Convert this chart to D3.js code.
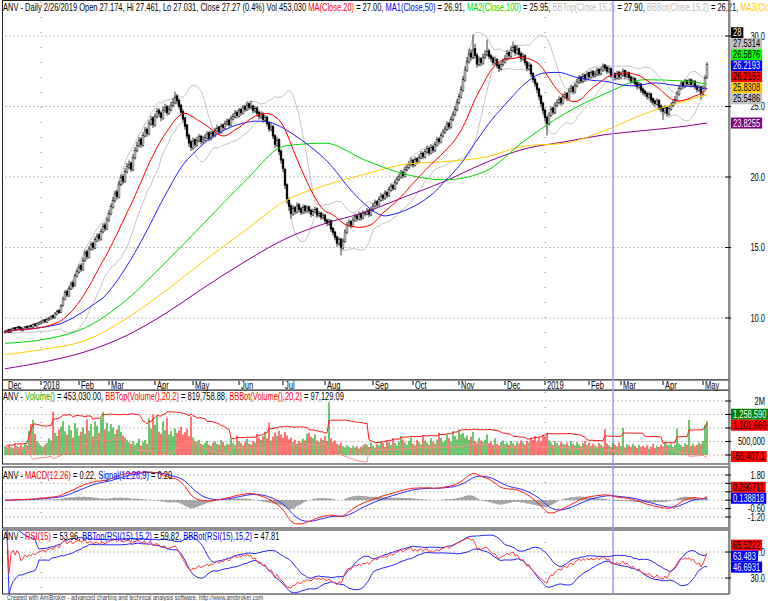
<!DOCTYPE html>
<html><head><meta charset="utf-8">
<script src="https://cdn.jsdelivr.net/npm/d3@7"></script>
<style>
body{margin:0;background:#fff;}
svg{display:block;font-family:"Liberation Sans",Arial,sans-serif;}
text{white-space:pre;}
</style>
</head><body>
<svg id="c" width="768" height="601"></svg>
<script>
// ---------------- DATA ----------------
const open=[8.95,9.00,9.18,8.98,9.12,9.32,9.15,9.38,9.32,9.10,
9.18,9.42,9.25,9.48,9.33,9.58,9.42,9.55,9.60,9.68,
9.88,9.70,9.86,9.92,10.18,10.00,10.25,10.55,10.40,10.90,
11.30,11.90,11.55,12.05,12.50,12.30,12.95,13.25,13.75,13.40,
14.05,14.70,14.30,14.85,15.30,14.95,15.45,15.90,15.55,16.10,
16.60,16.30,16.90,17.35,17.85,18.30,18.95,18.55,19.45,20.05,
19.65,20.35,20.70,21.00,20.50,21.35,21.85,22.20,22.70,22.25,
22.90,23.40,23.05,23.75,24.20,23.65,24.25,24.75,24.55,24.15,
24.70,25.00,24.50,24.75,25.05,25.25,25.75,25.45,25.10,24.65,
24.20,23.70,22.95,22.50,22.05,22.65,22.25,22.55,22.90,22.45,
22.60,22.75,23.15,22.70,23.20,22.90,23.25,23.55,23.15,23.70,
23.45,23.75,24.05,23.65,24.10,24.25,24.60,24.30,24.80,24.50,
25.00,24.75,25.20,24.90,25.05,24.65,24.90,24.60,24.25,24.50,
24.00,24.25,23.85,23.35,23.60,22.95,22.25,22.65,21.85,21.25,
20.55,19.45,18.35,17.95,17.35,17.85,17.50,18.05,17.75,17.45,
17.95,17.55,17.90,17.65,17.30,17.50,17.75,17.25,17.45,17.10,
17.30,16.95,16.65,16.90,16.35,16.10,15.75,15.25,15.60,14.95,
15.40,16.05,16.55,16.85,16.50,16.90,17.25,17.00,17.40,17.05,
17.50,17.35,17.65,17.30,17.65,17.90,18.25,18.00,18.35,18.70,
18.45,18.90,18.65,19.05,19.40,19.15,19.55,19.80,19.95,20.35,
20.05,20.50,20.65,20.85,21.20,20.80,21.30,21.05,21.35,21.70,
21.40,21.75,22.05,21.65,22.15,21.85,22.25,22.70,22.45,22.90,
23.15,23.35,23.80,23.50,24.05,24.40,24.75,25.25,25.65,26.15,
26.85,27.55,28.15,28.80,28.45,29.10,28.65,27.95,28.40,28.05,
28.45,28.65,28.95,28.60,28.45,28.05,28.35,27.95,27.65,27.95,
28.15,28.35,28.85,28.55,28.95,29.25,28.75,29.10,28.75,28.35,
28.60,28.15,27.65,27.95,27.35,26.95,26.65,26.25,25.75,25.25,
24.75,24.25,23.75,24.35,24.90,24.55,25.05,25.25,25.60,25.20,
25.65,25.95,25.55,26.05,26.40,26.00,26.45,26.70,27.10,26.75,
27.25,26.90,27.40,27.05,27.50,27.15,27.25,27.65,27.30,27.55,
27.95,27.80,27.45,27.70,27.174,27.35,27.00,27.45,27.05,27.20,
27.55,27.10,27.40,27.10,26.75,27.00,26.70,26.35,26.60,26.25,
26.10,25.95,25.65,25.90,25.55,25.40,25.15,25.45,25.05,24.90,
24.60,24.95,24.45,24.80,25.05,25.25,25.45,25.85,26.25,26.70,
26.40,26.85,26.55,26.90,26.50,26.80,26.45,26.15,26.40,25.85,
26.35,27.05];
const high=[9.15,9.20,9.24,9.26,9.34,9.36,9.40,9.44,9.36,9.30,
9.44,9.46,9.50,9.54,9.62,9.63,9.70,9.76,9.84,9.92,
9.93,10.02,10.08,10.20,10.24,10.42,10.60,10.62,10.98,11.52,
11.98,12.02,12.28,12.58,12.65,13.15,13.50,13.80,13.88,14.30,
14.80,14.85,15.10,15.40,15.42,15.75,16.00,16.02,16.35,16.72,
16.78,17.15,17.62,18.10,18.58,19.02,19.10,19.72,20.18,20.22,
20.62,21.00,21.18,21.12,21.62,22.12,22.50,22.85,22.82,23.18,
23.55,23.52,24.02,24.35,24.32,24.52,24.90,24.88,24.65,25.00,
25.20,25.10,25.05,25.35,25.60,26.05,25.88,25.60,25.20,24.80,
24.25,23.75,23.10,22.65,22.80,22.75,22.85,23.05,23.00,22.92,
23.05,23.25,23.22,23.30,23.28,23.50,23.70,23.62,23.80,23.78,
24.00,24.15,24.12,24.35,24.52,24.75,24.68,24.90,24.88,25.10,
25.12,25.35,25.28,25.40,25.12,25.05,25.00,24.70,24.65,24.60,
24.40,24.35,23.95,23.80,23.70,23.05,22.85,22.75,21.95,21.35,
20.65,19.55,18.55,18.10,18.00,17.95,18.20,18.15,17.90,18.05,
18.02,18.00,17.95,17.75,17.75,17.90,17.85,17.60,17.55,17.45,
17.40,17.05,17.05,16.98,16.45,16.20,15.85,15.75,15.68,15.65,
16.30,16.80,17.00,16.95,17.15,17.40,17.35,17.55,17.50,17.65,
17.60,17.80,17.75,17.90,18.15,18.40,18.35,18.60,18.85,18.80,
19.05,19.00,19.30,19.55,19.50,19.80,20.05,20.22,20.50,20.45,
20.75,20.92,21.12,21.38,21.30,21.45,21.40,21.60,21.85,21.80,
22.00,22.22,22.15,22.30,22.25,22.50,22.85,22.80,23.15,23.40,
23.62,23.95,23.90,24.30,24.65,25.02,25.52,25.92,26.45,27.15,
27.85,28.50,29.10,29.05,30.10,29.45,28.80,28.55,28.50,28.75,
29.00,29.75,29.10,28.75,28.55,28.55,28.45,28.10,28.20,28.40,
28.65,29.00,28.92,29.30,29.60,29.40,29.35,29.20,28.90,28.80,
28.70,28.25,28.15,28.05,27.45,27.05,26.75,26.35,25.85,25.35,
24.85,24.35,24.60,25.00,25.00,25.30,25.50,25.72,25.68,25.90,
26.05,26.02,26.30,26.52,26.48,26.70,26.95,27.22,27.18,27.35,
27.32,27.50,27.48,27.60,27.58,27.52,27.75,27.72,27.80,28.05,
28.02,27.88,27.85,27.78,27.461,27.42,27.55,27.52,27.45,27.70,
27.62,27.50,27.48,27.20,27.15,27.08,26.80,26.75,26.68,26.35,
26.20,26.05,26.05,25.98,25.65,25.50,25.60,25.52,25.15,25.00,
25.10,25.02,25.05,25.30,25.50,25.72,26.10,26.52,26.82,26.78,
26.95,26.92,27.00,26.98,26.90,26.88,26.55,26.55,26.48,26.50,
27.20,28.15];
const low=[8.88,8.96,8.93,8.94,9.08,9.12,9.12,9.20,9.06,9.05,
9.14,9.22,9.20,9.30,9.30,9.38,9.38,9.50,9.55,9.62,
9.65,9.66,9.80,9.88,9.93,9.95,10.20,10.28,10.35,10.82,
11.25,11.48,11.50,11.98,12.08,12.22,12.88,13.15,13.28,13.35,
13.98,14.15,14.22,14.78,14.80,14.88,15.38,15.45,15.48,16.00,
16.15,16.22,16.82,17.28,17.75,18.20,18.40,18.48,19.35,19.48,
19.58,20.25,20.55,20.35,20.42,21.25,21.75,22.10,22.05,22.15,
22.80,22.85,22.95,23.65,23.48,23.55,24.15,24.25,23.95,24.05,
24.55,24.35,24.40,24.65,24.95,25.15,25.15,24.80,24.40,23.90,
23.35,22.70,22.15,21.85,21.95,22.10,22.15,22.45,22.30,22.35,
22.50,22.65,22.55,22.60,22.75,22.82,23.15,23.00,23.05,23.30,
23.38,23.65,23.50,23.58,24.00,24.15,24.15,24.22,24.35,24.42,
24.60,24.68,24.75,24.80,24.50,24.55,24.30,24.10,24.15,23.85,
23.90,23.60,23.20,23.25,22.70,22.05,22.15,21.55,20.95,20.35,
19.15,18.10,17.60,17.05,17.25,17.35,17.42,17.50,17.30,17.38,
17.40,17.45,17.40,17.15,17.22,17.42,17.10,17.15,16.95,17.00,
16.70,16.50,16.55,16.10,15.85,15.50,15.05,15.15,14.45,14.85,
15.35,15.95,16.45,16.35,16.42,16.80,16.85,16.92,16.90,16.98,
17.20,17.28,17.15,17.22,17.55,17.82,17.85,17.92,18.25,18.30,
18.38,18.50,18.58,18.95,19.00,19.08,19.45,19.70,19.88,19.90,
19.98,20.40,20.55,20.75,20.65,20.72,20.90,20.98,21.25,21.25,
21.32,21.65,21.50,21.58,21.70,21.78,22.15,22.30,22.38,22.80,
23.05,23.25,23.35,23.42,23.95,24.30,24.65,25.15,25.55,26.05,
26.75,27.45,28.05,28.25,28.35,28.40,27.75,27.85,27.85,27.95,
28.35,28.55,28.35,28.15,27.90,27.95,27.70,27.45,27.55,27.85,
28.05,28.25,28.35,28.45,28.85,28.60,28.65,28.50,28.15,28.25,
27.90,27.50,27.55,27.10,26.70,26.40,25.95,25.45,24.95,24.45,
23.95,22.95,23.65,24.25,24.40,24.45,24.95,25.15,25.05,25.12,
25.55,25.40,25.45,25.95,25.85,25.92,26.35,26.60,26.60,26.65,
26.75,26.82,26.90,26.98,27.00,27.05,27.15,27.15,27.20,27.45,
27.50,27.30,27.35,27.02,27.031,26.85,26.92,26.90,26.95,27.10,
26.95,27.00,26.85,26.60,26.65,26.40,26.20,26.25,25.95,25.80,
25.70,25.50,25.55,25.25,25.10,25.00,25.05,24.75,24.60,24.05,
24.50,24.30,24.35,24.70,24.95,25.15,25.35,25.75,26.15,26.25,
26.30,26.40,26.45,26.35,26.40,26.20,26.00,26.05,25.50,25.75,
26.25,26.95];
const close=[9.05,9.12,9.00,9.18,9.25,9.20,9.32,9.28,9.15,9.22,
9.35,9.30,9.41,9.38,9.52,9.47,9.60,9.66,9.72,9.80,
9.74,9.92,9.95,10.08,10.02,10.30,10.45,10.38,10.85,11.35,
11.80,11.62,12.10,12.40,12.25,13.00,13.30,13.60,13.45,14.10,
14.60,14.35,14.90,15.20,15.00,15.55,15.80,15.62,16.15,16.50,
16.35,16.95,17.40,17.90,18.35,18.80,18.60,19.50,19.95,19.70,
20.40,20.75,20.90,20.55,21.40,21.90,22.25,22.60,22.30,22.95,
23.30,23.10,23.80,24.10,23.70,24.30,24.65,24.50,24.20,24.75,
24.90,24.55,24.80,25.10,25.30,25.65,25.40,25.00,24.60,24.10,
23.60,22.90,22.40,22.10,22.55,22.30,22.60,22.85,22.50,22.70,
22.80,23.05,22.75,23.10,22.95,23.30,23.45,23.20,23.60,23.50,
23.80,23.95,23.70,24.15,24.30,24.50,24.35,24.70,24.55,24.90,
24.80,25.10,24.95,25.00,24.70,24.85,24.50,24.30,24.45,24.05,
24.20,23.80,23.40,23.55,22.90,22.30,22.60,21.80,21.20,20.60,
19.40,18.40,17.90,17.40,17.75,17.55,17.95,17.70,17.50,17.85,
17.60,17.80,17.60,17.35,17.55,17.70,17.30,17.40,17.15,17.25,
16.90,16.70,16.85,16.30,16.05,15.70,15.30,15.55,15.00,15.45,
16.10,16.60,16.80,16.55,16.95,17.20,17.05,17.35,17.10,17.45,
17.40,17.60,17.35,17.70,17.95,18.20,18.05,18.40,18.65,18.50,
18.85,18.70,19.10,19.35,19.20,19.60,19.85,20.00,20.30,20.10,
20.55,20.70,20.90,21.15,20.85,21.25,21.10,21.40,21.65,21.45,
21.80,22.00,21.70,22.10,21.90,22.30,22.65,22.50,22.95,23.20,
23.40,23.75,23.55,24.10,24.45,24.80,25.30,25.70,26.20,26.90,
27.60,28.20,28.70,28.50,29.00,28.60,28.00,28.30,28.10,28.50,
28.70,28.90,28.55,28.40,28.10,28.30,27.90,27.70,28.00,28.20,
28.40,28.75,28.60,29.00,29.20,28.80,29.05,28.70,28.40,28.55,
28.10,27.70,27.90,27.30,26.90,26.60,26.20,25.70,25.20,24.70,
24.20,23.80,24.40,24.80,24.60,25.10,25.30,25.50,25.25,25.70,
25.85,25.60,26.10,26.30,26.05,26.50,26.75,27.00,26.80,27.15,
26.95,27.30,27.10,27.40,27.20,27.30,27.55,27.35,27.60,27.85,
27.70,27.50,27.65,27.16,27.27,27.05,27.35,27.10,27.25,27.50,
27.15,27.30,27.05,26.80,26.95,26.60,26.40,26.55,26.15,26.00,
25.90,25.70,25.85,25.45,25.30,25.20,25.40,24.95,24.80,24.65,
24.90,24.50,24.85,25.10,25.30,25.50,25.90,26.30,26.60,26.45,
26.75,26.60,26.80,26.55,26.70,26.40,26.20,26.35,25.90,26.30,
27.00,28.00];
// volume in thousands of shares
const volumeK=[320,280,350,300,260,410,330,290,380,310,420,360,900,1150,1300,780,520,430,350,300,
380,450,620,540,1600,820,700,950,1050,1250,880,760,1100,920,640,1180,980,720,860,1020,
780,1320,900,1150,690,1250,1080,820,1380,1600,950,1200,880,1150,1020,780,940,1100,860,720,
650,560,480,420,520,380,450,600,350,480,560,420,1350,980,1500,1120,1450,860,780,1250,
920,1380,760,880,700,980,820,900,1050,760,840,980,700,1420,650,520,480,560,420,380,
450,520,380,340,460,500,420,380,560,480,350,420,390,620,450,380,720,520,440,360,
480,600,420,380,520,460,780,640,560,700,860,620,1200,540,680,820,720,900,760,640,
860,720,580,640,480,560,420,520,460,600,540,780,820,680,620,760,540,480,620,560,
700,520,1950,620,480,540,420,380,460,320,280,360,300,260,340,280,320,240,300,360,
420,380,300,460,340,280,400,360,520,440,300,560,480,380,620,440,360,500,700,580,
460,380,520,640,420,360,560,480,400,700,540,460,380,620,500,420,560,820,640,480,
540,760,620,500,880,700,580,940,760,820,640,720,560,680,860,520,460,640,540,480,
560,760,440,500,380,620,420,360,480,540,400,460,380,520,440,360,480,420,540,460,
380,520,460,620,560,700,480,640,520,760,680,820,540,460,380,520,440,360,480,420,
380,460,340,520,420,360,480,400,320,440,520,380,460,340,420,360,300,440,380,320,
960,420,360,300,453.03,380,320,460,340,1000,280,400,360,300,420,340,260,380,300,340,
280,360,240,300,420,260,340,300,380,320,460,380,360,420,300,380,980,420,360,300,
440,380,1300,340,420,320,380,460,400,520,1120,1258.59];

// long moving averages (bar index -> value)
const longMaBars=[0,20,40,60,80,100,120,140,160,180,200,220,240,260,280,300,320,340,351];
const ma100Vals=[8.2,8.5,9.3,11.2,13.9,16.8,19.7,22.2,22.4,21.2,20.2,19.8,20.4,22.6,24.5,25.9,26.9,26.8,26.59];
const ma150Vals=[7.4,7.8,8.4,9.9,11.9,14.1,16.2,18.3,19.4,20.2,20.9,21.1,21.4,22.2,22.4,23.3,24.5,25.4,25.83];
const ma200Vals=[6.4,6.9,7.6,8.7,10.3,12.2,14.0,15.6,16.7,17.5,18.6,19.7,21.0,22.0,22.5,23.0,23.3,23.6,23.83];

// time axis
const monthLabels=["Dec","2018","Feb","Mar","Apr","May","Jun","Jul","Aug","Sep","Oct","Nov","Dec","2019","Feb","Mar","Apr","May"];
const monthBars=[0,18,37,52,75,94,117,139,160,184,204,227,250,270,292,308,329,349];
const selectedBar=304;

// axis ticks
const priceTicks=[10,15,20,25,30];
const volTicks=[0,500000,1000000,1500000,2000000];
const volTickLabels=["0","500,000","1M","1.5M","2M"];
const macdTicks=[-1.2,-0.6,0,0.6,1.2,1.8];
const rsiTicks=[30,70];

// last-value boxes on the right axis
const mainLastValues=[28,27.5314,26.5876,26.2193,26.2153,25.8308,25.5486,23.8255];
const volLastValues=[1258590,1101660,-56407.1];
const macdLastValues=[0.290711,0.138818];
const rsiLastValues=[65.5222,63.483,46.6931];

// ---------------- INDICATORS ----------------
const N=close.length;
const volume=volumeK.map(v=>v*1000);
function sma(a,n){return a.map((_,i)=>d3.mean(a.slice(Math.max(0,i-n+1),i+1)));}
function band(a,n,k,s){return a.map((_,i)=>{const w=a.slice(Math.max(0,i-n+1),i+1).filter(v=>!isNaN(v));
  if(!w.length)return NaN;const m=d3.mean(w);const sd=Math.sqrt(d3.mean(w,v=>(v-m)*(v-m)));return m+s*k*sd;});}
function ema(a,n){const al=2/(n+1);const o=[];a.forEach((v,i)=>o.push(i===0?v:al*v+(1-al)*o[i-1]));return o;}
function rsiCalc(a,n){const o=[NaN];let ag=0,al=0;for(let i=1;i<a.length;i++){const ch=a[i]-a[i-1];const g=Math.max(ch,0),l=Math.max(-ch,0);
  const m=Math.min(i,n);ag=(ag*(m-1)+g)/m;al=(al*(m-1)+l)/m;o.push(al===0?100:100-100/(1+ag/al));}return o;}
const ma20=sma(close,20), ma50=sma(close,50);
const bbTop=band(close,15,2,1), bbBot=band(close,15,2,-1);
const e12=ema(close,12), e26=ema(close,26);
const macd=e12.map((v,i)=>v-e26[i]);
const signal=ema(macd,9);
const rsi=rsiCalc(close,15);
const rsiTop=band(rsi,15,2,1), rsiBot=band(rsi,15,2,-1);
const vTop=band(volume,20,2,1), vBot=band(volume,20,2,-1);

// ---------------- LAYOUT ----------------
const svg=d3.select("#c");
const XL=2.5, XR=729;
const P={main:[0.5,380],vol:[390,464],macd:[467,528],rsi:[530,594]};
const x=d3.scaleLinear().domain([0,N-1]).range([5,707]);
const yP=d3.scaleLinear().domain([10,30]).range([318,36]);
const yV=d3.scaleLinear().domain([0,2000000]).range([455,401]);
const yM=d3.scaleLinear().domain([-1.2,1.8]).range([517,475]);
const yR=d3.scaleLinear().domain([30,70]).range([578,552]);

const defs=svg.append("defs");
Object.entries(P).forEach(([k,[a,b]])=>{defs.append("clipPath").attr("id","clip-"+k).append("rect").attr("x",XL).attr("y",a).attr("width",XR-XL).attr("height",b-a);});

function label(g,xx,yy,parts,opt={}){
  const t=g.append("text").attr("transform",`translate(${xx},${yy}) scale(0.75,1)`)
    .attr("font-size",opt.size||10).attr("text-anchor",opt.anchor||"start");
  parts.forEach(p=>t.append("tspan").attr("fill",p[1]||"#000").text(p[0]));
  return t;
}
function grid(g,ticks,ys){
  ticks.forEach(t=>{
    g.append("line").attr("x1",XL+3).attr("x2",XR-3).attr("y1",ys(t)).attr("y2",ys(t))
     .attr("stroke","#808080").attr("stroke-width",1).attr("stroke-dasharray","1,3");
  });
}
function line(g,data,xs,ys,color,w=1,idx){
  g.append("path").datum(idx?idx.map((b,j)=>[b,data[j]]):data.map((v,i)=>[i,v]))
   .attr("fill","none").attr("stroke",color).attr("stroke-width",w)
   .attr("d",d3.line().defined(d=>!isNaN(d[1])).x(d=>xs(d[0])).y(d=>ys(d[1])).curve(idx?d3.curveMonotoneX:d3.curveLinear));
}
// box layout (computed before drawing so hidden axis labels can be skipped)
function layoutBoxes(vals,ys,styles,fmt,meas){
  const items=vals.map((v,i)=>({v,y:ys(v),st:styles[i],txt:fmt(v)}));
  const sorted=items.slice().sort((a,b)=>b.y-a.y);
  let prev=Infinity;
  sorted.forEach(it=>{it.cy=Math.min(it.y,prev-11);prev=it.cy;});
  items.forEach(it=>{it.w=meas(it.txt)+4;});
  return items;
}
function drawBoxes(g,items){
  items.forEach(it=>{
    g.append("rect").attr("x",731).attr("y",it.cy-5.5).attr("height",11).attr("width",it.w).attr("fill",it.st[0]);
    label(g,733,it.cy+3.6,[[it.txt,it.st[1]]]);
  });
}
function axisLabels(g,ticks,ys,fmt,items){
  ticks.forEach((t,i)=>{
    const yy=ys(t);
    g.append("line").attr("x1",725).attr("x2",731).attr("y1",yy).attr("y2",yy).attr("stroke","#000");
    const cover=items.find(b=>Math.abs(b.cy-yy)<8);
    if(cover && 731+cover.w>=763) return; // fully hidden behind a value box
    label(g,765,yy+3.5,[[fmt(t,i)]],{anchor:"end"});
  });
}

// panel frames
Object.values(P).forEach(([a,b])=>{
  svg.append("rect").attr("x",XL).attr("y",a).attr("width",XR-XL).attr("height",b-a)
    .attr("fill","#fff").attr("stroke","#202020").attr("stroke-width",1);
});
svg.append("rect").attr("x",XL).attr("y",380).attr("width",XR-XL).attr("height",10).attr("fill","#fff").attr("stroke","#202020");

// ---------------- MAIN PANEL ----------------
const gm=svg.append("g");
grid(gm,priceTicks,yP);
const gYear=svg.append("g");
["2018","2019"].forEach(lbl=>{const b=monthBars[monthLabels.indexOf(lbl)];
  gYear.append("line").attr("x1",x(b)).attr("x2",x(b)).attr("y1",2).attr("y2",594)
   .attr("stroke","#808080").attr("stroke-dasharray","1,14");});
svg.append("line").attr("x1",x(selectedBar)).attr("x2",x(selectedBar)).attr("y1",1).attr("y2",594)
  .attr("stroke","#9a9aff").attr("stroke-width",1.5);

const gmc=gm.append("g").attr("clip-path","url(#clip-main)");
line(gmc,bbTop,x,yP,"#c4c4c4");
line(gmc,bbBot,x,yP,"#c4c4c4");
const idx=d3.range(N);
gmc.selectAll("line.wick").data(idx).join("line").attr("class","wick")
  .attr("x1",i=>x(i)).attr("x2",i=>x(i)).attr("y1",i=>yP(high[i])).attr("y2",i=>yP(low[i]))
  .attr("stroke","#000").attr("stroke-width",0.8);
gmc.selectAll("rect.body").data(idx).join("rect").attr("class","body")
  .attr("x",i=>x(i)-0.9).attr("width",1.8)
  .attr("y",i=>yP(Math.max(open[i],close[i])))
  .attr("height",i=>Math.max(0.8,Math.abs(yP(open[i])-yP(close[i]))))
  .attr("fill",i=>close[i]>=open[i]?"#fff":"#000").attr("stroke","#000").attr("stroke-width",0.5);
line(gmc,ma200Vals,x,yP,"#8b008b",1,longMaBars);
line(gmc,ma150Vals,x,yP,"#ffcc00",1,longMaBars);
line(gmc,ma100Vals,x,yP,"#00d800",1,longMaBars);
line(gmc,ma50,x,yP,"#2020ff");
line(gmc,ma20,x,yP,"#ff0000");

label(gm,3,11,[["ANV - Daily 2/26/2019 Open 27.174, Hi 27.461, Lo 27.031, Close 27.27 (0.4%) Vol 453,030 "],
 ["MA(Close,20)","#ff0000"],[" = 27.00, "],["MA1(Close,50)","#0000ff"],[" = 26.91, "],
 ["MA2(Close,100)","#00e000"],[" = 25.95, "],["BBTop(Close,15,2)","#c0c0c0"],[" = 27.90, "],
 ["BBBot(Close,15,2)","#c0c0c0"],[" = 26.21, "],["MA3(Clos","#ffcc00"]]);

// ---------------- X AXIS ----------------
monthBars.forEach((b,i)=>{
  if(i>0) svg.append("line").attr("x1",x(b)).attr("x2",x(b)).attr("y1",381).attr("y2",385).attr("stroke","#000");
  label(svg,x(b)+(i>0?2:3),388.5,[[monthLabels[i]]]);
});

// ---------------- VOLUME ----------------
const gv=svg.append("g");
grid(gv,volTicks,yV);
const gvc=gv.append("g").attr("clip-path","url(#clip-vol)");
gvc.selectAll("rect.vb").data(idx).join("rect").attr("class","vb")
  .attr("x",i=>x(i)-0.65).attr("width",1.3)
  .attr("y",i=>yV(volume[i])).attr("height",i=>yV(0)-yV(volume[i]))
  .attr("fill",i=>close[i]>=open[i]?"#22a822":"#ff2a2a");
line(gvc,vTop,x,yV,"#ff1a1a");
line(gvc,vBot,x,yV,"#ff8c8c");
label(gv,3,399.5,[["ANV - "],["Volume()","#00b000"],[" = 453,030.00, "],["BBTop(Volume(),20,2)","#ff0000"],
 [" = 819,758.88, "],["BBBot(Volume(),20,2)","#ff0000"],[" = 97,129.09"]]);

// ---------------- MACD ----------------
const gd=svg.append("g");
grid(gd,macdTicks,yM);
const gdc=gd.append("g").attr("clip-path","url(#clip-macd)");
gdc.selectAll("line.h").data(idx).join("line").attr("class","h")
  .attr("x1",i=>x(i)).attr("x2",i=>x(i)).attr("y1",yM(0)).attr("y2",i=>yM(macd[i]-signal[i]))
  .attr("stroke","#000").attr("stroke-width",0.7);
line(gdc,signal,x,yM,"#3030ff");
line(gdc,macd,x,yM,"#ff2020");
label(gd,3,478.5,[["ANV - "],["MACD(12,26)","#ff0000"],[" = 0.22, "],["Signal(12,26,9)","#0000ff"],[" = 0.20"]]);

// ---------------- RSI ----------------
const gr=svg.append("g");
grid(gr,rsiTicks,yR);
const grc=gr.append("g").attr("clip-path","url(#clip-rsi)");
line(grc,rsiTop,x,yR,"#2a2aff");
line(grc,rsiBot,x,yR,"#2a2aff");
line(grc,rsi,x,yR,"#ff3a3a");
label(gr,3,539.5,[["ANV - "],["RSI(15)","#ff0000"],[" = 53.96, "],["BBTop(RSI(15),15,2)","#0000ff"],
 [" = 59.82, "],["BBBot(RSI(15),15,2)","#0000ff"],[" = 47.81"]]);

// ---------------- RIGHT AXIS ----------------
const ga=svg.append("g");
ga.append("line").attr("x1",729.5).attr("x2",729.5).attr("y1",0).attr("y2",594).attr("stroke","#8a8a8a").attr("stroke-width",2);
const probe=svg.append("text").attr("font-size",10).attr("opacity",0);
const meas=s=>{probe.text(s);return probe.node().getComputedTextLength()*0.75;};
const num=v=>String(v);
const mainB=layoutBoxes(mainLastValues,yP,[["#000","#fff"],["#c0c0c0","#000"],["#00ff00","#000"],["#0000ff","#fff"],
  ["#ff0000","#000"],["#ffcc00","#000"],["#c0c0c0","#000"],["#800080","#fff"]],num,meas);
const volB=layoutBoxes(volLastValues,yV,[["#008000","#fff"],["#ff0000","#000"],["#ff0000","#000"]],
  v=>d3.format(",")(v).replace("\u2212","-"),meas);
const macdB=layoutBoxes(macdLastValues,yM,[["#ff0000","#000"],["#0000ff","#fff"]],num,meas);
const rsiB=layoutBoxes(rsiLastValues,yR,[["#ff0000","#000"],["#0000ff","#fff"],["#0000ff","#fff"]],num,meas);
probe.remove();
axisLabels(ga,priceTicks,yP,t=>t.toFixed(1),mainB);
axisLabels(ga,volTicks,yV,(t,i)=>volTickLabels[i],volB);
axisLabels(ga,macdTicks,yM,t=>t.toFixed(2),macdB);
axisLabels(ga,rsiTicks,yR,t=>t.toFixed(1),rsiB);
drawBoxes(ga,mainB);drawBoxes(ga,volB);drawBoxes(ga,macdB);drawBoxes(ga,rsiB);

// footer
label(svg,7,600,[["Created with AmiBroker - advanced charting and technical analysis software. http://www.amibroker.com","#404040"]],{size:7.5});
</script>
</body></html>
